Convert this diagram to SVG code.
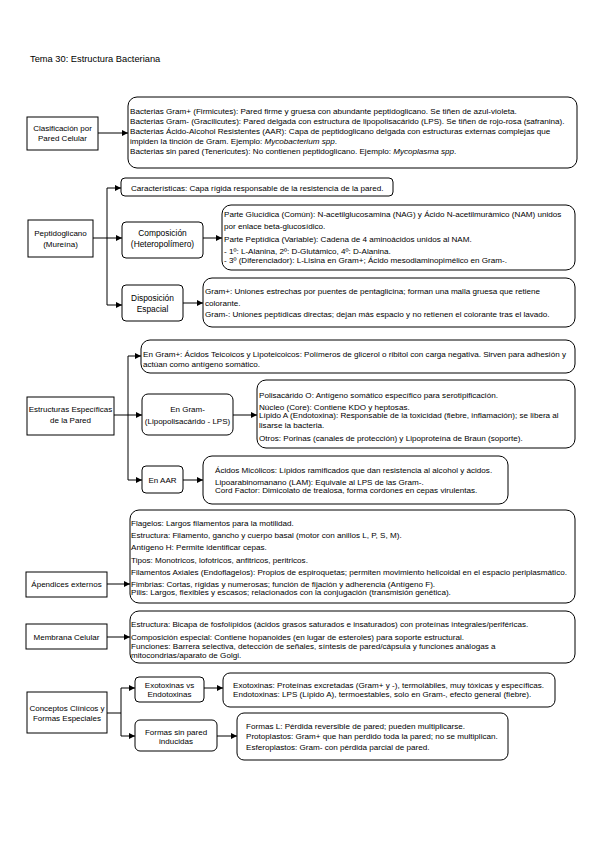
<svg xmlns="http://www.w3.org/2000/svg" width="599" height="848" viewBox="0 0 599 848">
<style>
text{font-family:"Liberation Sans",Arial,sans-serif;font-size:8.1px;fill:#000}
.t{font-size:9.3px}
.c{text-anchor:middle;font-size:8px}
.m{font-size:8.4px}
.n{fill:#fff;stroke:#000;stroke-width:1}
.e{stroke:#000;stroke-width:1;fill:none}
.i{font-style:italic}
</style>
<defs>
<marker id="a" markerWidth="6" markerHeight="6" refX="6" refY="3" orient="auto" markerUnits="userSpaceOnUse">
<path d="M0,0 L6,3 L0,6 z" fill="#000"/>
</marker>
</defs>
<rect width="599" height="848" fill="#fff"/>
<text class="t" x="30" y="62">Tema 30: Estructura Bacteriana</text>

<g id="connectors">
<path class="e" d="M98,133 H128" marker-end="url(#a)"/>
<path class="e" d="M93,238 H107 M107,188 V305"/>
<path class="e" d="M107,188 H121" marker-end="url(#a)"/>
<path class="e" d="M107,238 H122" marker-end="url(#a)"/>
<path class="e" d="M107,305 H122" marker-end="url(#a)"/>
<path class="e" d="M203,238 H222" marker-end="url(#a)"/>
<path class="e" d="M183,303 H203" marker-end="url(#a)"/>
<path class="e" d="M114,415 H128 M128,356 V480"/>
<path class="e" d="M128,356 H141" marker-end="url(#a)"/>
<path class="e" d="M128,415 H142" marker-end="url(#a)"/>
<path class="e" d="M128,480 H142" marker-end="url(#a)"/>
<path class="e" d="M233,415 H257" marker-end="url(#a)"/>
<path class="e" d="M183,480 H203" marker-end="url(#a)"/>
<path class="e" d="M107,584 H130" marker-end="url(#a)"/>
<path class="e" d="M107,637 H130" marker-end="url(#a)"/>
<path class="e" d="M107,713 H121 M121,688 V736"/>
<path class="e" d="M121,688 H135" marker-end="url(#a)"/>
<path class="e" d="M121,736 H135" marker-end="url(#a)"/>
<path class="e" d="M204,688 H223" marker-end="url(#a)"/>
<path class="e" d="M217,736 H237" marker-end="url(#a)"/>
</g>

<g id="clasificacion">
<rect class="n" x="27" y="117" width="71" height="33"/>
<text class="c" x="62.5" y="131">Clasificación por</text>
<text class="c" x="62.5" y="141">Pared Celular</text>
</g>
<g id="clasificacion-detalle">
<rect class="n" x="128" y="97" width="449" height="71" rx="9"/>
<text x="130" y="113.5">Bacterias Gram+ (Firmicutes): Pared firme y gruesa con abundante peptidoglicano. Se tiñen de azul-violeta.</text>
<text x="130" y="123.5">Bacterias Gram- (Gracilicutes): Pared delgada con estructura de lipopolisacárido (LPS). Se tiñen de rojo-rosa (safranina).</text>
<text x="130" y="133.5">Bacterias Ácido-Alcohol Resistentes (AAR): Capa de peptidoglicano delgada con estructuras externas complejas que</text>
<text x="130" y="143.5">impiden la tinción de Gram. Ejemplo: <tspan class="i">Mycobacterium spp</tspan>.</text>
<text x="130" y="153.5">Bacterias sin pared (Tenericutes): No contienen peptidoglicano. Ejemplo: <tspan class="i">Mycoplasma spp</tspan>.</text>
</g>

<g id="peptidoglicano">
<rect class="n" x="28" y="220" width="65" height="37"/>
<text class="c" x="60.5" y="235.5">Peptidoglicano</text>
<text class="c" x="60.5" y="246.5">(Mureína)</text>
</g>
<g id="caracteristicas">
<rect class="n" x="121" y="178" width="272" height="18" rx="4"/>
<text x="131" y="190.5">Características: Capa rígida responsable de la resistencia de la pared.</text>
</g>
<g id="composicion">
<rect class="n" x="122" y="222" width="81" height="36" rx="4"/>
<text class="c m" x="162.5" y="235.5">Composición</text>
<text class="c m" x="162.5" y="246.5">(Heteropolímero)</text>
</g>
<g id="composicion-detalle">
<rect class="n" x="222" y="205" width="353" height="65" rx="9"/>
<text x="224" y="216.5">Parte Glucídica (Común): N-acetilglucosamina (NAG) y Ácido N-acetilmurámico (NAM) unidos</text>
<text x="224" y="228.5">por enlace beta-glucosídico.</text>
<text x="224" y="241.5">Parte Peptídica (Variable): Cadena de 4 aminoácidos unidos al NAM.</text>
<text x="224" y="253.5">- 1º: L-Alanina, 2º: D-Glutámico, 4º: D-Alanina.</text>
<text x="224" y="262.5">- 3º (Diferenciador): L-Lisina en Gram+; Ácido mesodiaminopimélico en Gram-.</text>
</g>
<g id="disposicion">
<rect class="n" x="122" y="285" width="61" height="36" rx="4"/>
<text class="c m" x="152.5" y="300.5">Disposición</text>
<text class="c m" x="152.5" y="311.5">Espacial</text>
</g>
<g id="disposicion-detalle">
<rect class="n" x="203" y="278" width="372" height="49" rx="9"/>
<text x="205" y="293.5">Gram+: Uniones estrechas por puentes de pentaglicina; forman una malla gruesa que retiene</text>
<text x="205" y="305.5">colorante.</text>
<text x="205" y="316.5">Gram-: Uniones peptídicas directas; dejan más espacio y no retienen el colorante tras el lavado.</text>
</g>

<g id="estructuras">
<rect class="n" x="27" y="397" width="87" height="38"/>
<text class="c" x="70.5" y="411.5">Estructuras Específicas</text>
<text class="c" x="70.5" y="422.5">de la Pared</text>
</g>
<g id="gram-positivo">
<rect class="n" x="141" y="340" width="434" height="33" rx="9"/>
<text x="143" y="356.5">En Gram+: Ácidos Teicoicos y Lipoteicoicos: Polímeros de glicerol o ribitol con carga negativa. Sirven para adhesión y</text>
<text x="143" y="366.5">actúan como antígeno somático.</text>
</g>
<g id="gram-negativo">
<rect class="n" x="142" y="394" width="91" height="41" rx="6"/>
<text class="c" x="187.5" y="411.5">En Gram-</text>
<text class="c" x="187.5" y="423.5">(Lipopolisacárido - LPS)</text>
</g>
<g id="gram-negativo-detalle">
<rect class="n" x="257" y="380" width="318" height="68" rx="9"/>
<text x="259" y="397.5">Polisacárido O: Antígeno somático específico para serotipificación.</text>
<text x="259" y="409.5">Núcleo (Core): Contiene KDO y heptosas.</text>
<text x="259" y="417.5">Lípido A (Endotoxina): Responsable de la toxicidad (fiebre, inflamación); se libera al</text>
<text x="259" y="427.5">lisarse la bacteria.</text>
<text x="259" y="440.5">Otros: Porinas (canales de protección) y Lipoproteína de Braun (soporte).</text>
</g>
<g id="aar">
<rect class="n" x="142" y="466" width="41" height="27" rx="4"/>
<text class="c" x="162.5" y="482.5">En AAR</text>
</g>
<g id="aar-detalle">
<rect class="n" x="203" y="456" width="305" height="48" rx="9"/>
<text x="215" y="472.5">Ácidos Micólicos: Lípidos ramificados que dan resistencia al alcohol y ácidos.</text>
<text x="215" y="484.5">Lipoarabinomanano (LAM): Equivale al LPS de las Gram-.</text>
<text x="215" y="492.5">Cord Factor: Dimicolato de trealosa, forma cordones en cepas virulentas.</text>
</g>

<g id="apendices">
<rect class="n" x="26" y="572" width="81" height="25"/>
<text class="c" x="66.5" y="586.5">Ápendices externos</text>
</g>
<g id="apendices-detalle">
<rect class="n" x="130" y="510" width="445" height="93" rx="9"/>
<text x="131" y="525.5">Flagelos: Largos filamentos para la motilidad.</text>
<text x="131" y="537.5">Estructura: Filamento, gancho y cuerpo basal (motor con anillos L, P, S, M).</text>
<text x="131" y="549.5">Antígeno H: Permite identificar cepas.</text>
<text x="131" y="562.5">Tipos: Monotricos, lofotricos, anfitricos, peritricos.</text>
<text x="131" y="574.5">Filamentos Axiales (Endoflagelos): Propios de espiroquetas; permiten movimiento helicoidal en el espacio periplasmático.</text>
<text x="131" y="586.5">Fimbrias: Cortas, rígidas y numerosas; función de fijación y adherencia (Antígeno F).</text>
<text x="131" y="594.5">Pilis: Largos, flexibles y escasos; relacionados con la conjugación (transmisión genética).</text>
</g>

<g id="membrana">
<rect class="n" x="26" y="624" width="81" height="25"/>
<text class="c" x="66.5" y="639.5">Membrana Celular</text>
</g>
<g id="membrana-detalle">
<rect class="n" x="130" y="611" width="445" height="52" rx="9"/>
<text x="131" y="626.5">Estructura: Bicapa de fosfolípidos (ácidos grasos saturados e insaturados) con proteínas integrales/periféricas.</text>
<text x="131" y="639.5">Composición especial: Contiene hopanoides (en lugar de esteroles) para soporte estructural.</text>
<text x="131" y="648.5">Funciones: Barrera selectiva, detección de señales, síntesis de pared/cápsula y funciones análogas a</text>
<text x="131" y="657.5">mitocondrias/aparato de Golgi.</text>
</g>

<g id="conceptos">
<rect class="n" x="27" y="692" width="80" height="41"/>
<text class="c" x="67" y="710.5">Conceptos Clínicos y</text>
<text class="c" x="67" y="720.5">Formas Especiales</text>
</g>
<g id="toxinas">
<rect class="n" x="135" y="677" width="69" height="25" rx="4"/>
<text class="c" x="169.5" y="687.5">Exotoxinas vs</text>
<text class="c" x="169.5" y="696.5">Endotoxinas</text>
</g>
<g id="toxinas-detalle">
<rect class="n" x="223" y="673" width="332" height="34" rx="7"/>
<text x="233" y="688">Exotoxinas: Proteínas excretadas (Gram+ y -), termolábiles, muy tóxicas y específicas.</text>
<text x="233" y="696.5">Endotoxinas: LPS (Lípido A), termoestables, solo en Gram-, efecto general (fiebre).</text>
</g>
<g id="formas">
<rect class="n" x="135" y="720" width="82" height="31" rx="5"/>
<text class="c" x="176" y="734.5">Formas sin pared</text>
<text class="c" x="176" y="743.5">inducidas</text>
</g>
<g id="formas-detalle">
<rect class="n" x="237" y="713" width="271" height="47" rx="7"/>
<text x="246" y="728.5">Formas L: Pérdida reversible de pared; pueden multiplicarse.</text>
<text x="246" y="738.5">Protoplastos: Gram+ que han perdido toda la pared; no se multiplican.</text>
<text x="246" y="749.5">Esferoplastos: Gram- con pérdida parcial de pared.</text>
</g>
</svg>
